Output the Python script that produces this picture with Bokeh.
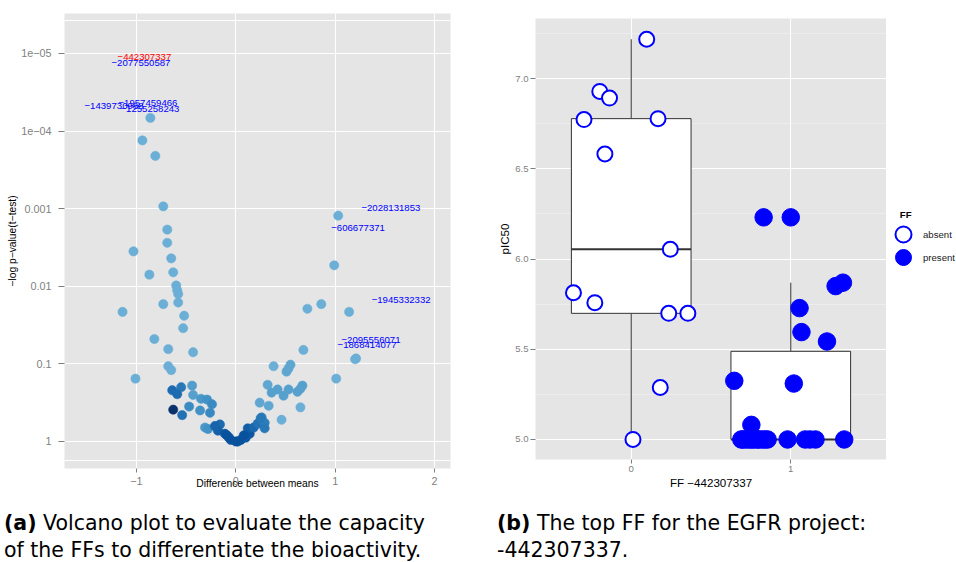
import numpy as np
from bokeh.plotting import figure
from bokeh.models import (FixedTicker, Grid, Legend, LegendItem, ColumnDataSource,
                          Div, LinearColorMapper, Range1d, Label)
from bokeh.layouts import row, column
from bokeh.embed import file_html
from bokeh.resources import INLINE
from bokeh.core.properties import value

# ---------------- (a) volcano plot data ----------------
diff_means = [-0.86, -0.94, -0.81, -0.73, -0.69, -0.69, -1.03, -0.65, -0.87, -0.63,
              -0.60, -0.59, -0.58, -0.58, -0.73, -1.14, -0.52, -0.53, -0.82, -0.68,
              -0.43, -0.68, -0.65, -1.01, -0.55, -0.64, -0.59, -0.44, -0.43, -0.35,
              -0.29, -0.24, -0.47, -0.63, -0.36, -0.26, -0.54, -0.31, -0.28, -0.16,
              -0.18, -0.11, -0.07, -0.05, 0.00, 0.02,
              0.05, 0.10, 0.14, 0.12, 0.18, 0.22, 0.26, 0.29, 0.29, 0.24,
              0.33, 0.46, 0.65, 0.32, 0.36, 0.42, 0.48, 0.53, 0.62, 0.65,
              0.67, 0.38, 0.51, 0.53, 0.55, 1.01, 0.68, 1.21, 1.20, 0.72,
              0.86, 1.14, 0.99, 1.03, 0.25, 0.08, -0.09, -0.21]
neg_log10_p = [4.17, 3.88, 3.68, 3.03, 2.73, 2.56, 2.45, 2.36, 2.15, 2.18,
               2.01, 1.95, 1.90, 1.79, 1.77, 1.67, 1.62, 1.46, 1.32, 1.19,
               1.15, 0.97, 0.92, 0.81, 0.70, 0.66, 0.61, 0.72, 0.60, 0.55,
               0.54, 0.48, 0.45, 0.41, 0.40, 0.37, 0.34, 0.18, 0.16, 0.22,
               0.14, 0.10, 0.05, 0.02, 0.00, 0.00,
               0.02, 0.05, 0.10, 0.17, 0.18, 0.23, 0.31, 0.24, 0.17, 0.50,
               0.46, 0.28, 0.44, 0.73, 0.63, 0.67, 0.59, 0.67, 0.64, 0.68,
               0.72, 0.97, 0.90, 0.94, 0.99, 0.81, 1.18, 1.07, 1.06, 1.71,
               1.77, 1.67, 2.27, 2.91, 0.30, 0.08, 0.08, 0.20]
shade = [0, 0, 0, 0, 0, 0, 0, 0, 0, 0,
         0, 0, 0, 0, 0, 0, 0, 0, 0, 0,
         0, 0, 0, 0, 1.8, 2.2, 2.2, 0.6, 0.5, 0.8,
         1.0, 1.2, 1.2, 4.0, 1.0, 1.3, 2.0, 0.8, 1.0, 2.2,
         2.5, 2.8, 3.0, 3.0, 3.0, 3.0,
         3.0, 2.8, 2.8, 2.6, 2.3, 2.0, 1.6, 1.6, 1.8, 0.3,
         0.3, 0, 0, 0.3, 0.5, 0.5, 0.5, 0.5, 0.5, 0.5,
         0.5, 0, 0.3, 0.3, 0.3, 0, 0, 0, 0, 0,
         0, 0, 0, 0, 1.8, 3.0, 3.0, 2.4]

label_ids = ["−442307337", "−2077550587", "−1439730988", "−1957459466", "−1255258243",
             "−2028131853", "−606677371", "−1945332332", "−2095556071", "−1868414077"]
label_diff = [-0.92, -0.955, -1.226, -0.884, -0.864, 1.56, 1.23, 1.663, 1.36, 1.32]
label_nlp = [4.95, 4.875, 4.32, 4.365, 4.28, 3.01, 2.75, 1.817, 1.31, 1.237]
label_colors = ["#FF0000"] + ["#0000FF"] * 9

p_tick_values = [0, 1, 2, 3, 4, 5]
p_tick_labels = ["1", "0.1", "0.01", "0.001", "1e−04", "1e−05"]
diff_ticks = [-1, 0, 1, 2]
diff_tick_labels = ["−1", "0", "1", "2"]

# ---------------- (b) box plot data ----------------
ff_levels = [0, 1]
ff_tick_labels = ["0", "1"]
ff_legend_title = "FF"
ff_legend_labels = ["absent", "present"]
absent_x = [0.097, -0.197, -0.136, -0.296, 0.168, -0.165, 0.245, -0.362, -0.228,
            0.235, 0.355, 0.182, 0.011]
absent_pic50 = [7.218, 6.929, 6.892, 6.773, 6.778, 6.582, 6.054, 5.813, 5.758,
                5.699, 5.699, 5.288, 5.0]
present_x = [0.830, 1.0, 1.327, 1.281, 1.055, 1.067, 1.227, 0.646, 1.019, 0.753,
             0.69, 0.70, 0.72, 0.74, 0.755, 0.77, 0.79, 0.80, 0.82, 0.84, 0.855,
             0.98, 1.09, 1.12, 1.155, 1.335]
present_pic50 = [6.231, 6.231, 5.869, 5.850, 5.728, 5.595, 5.543, 5.325, 5.310, 5.081,
                 5.0, 5.0, 5.0, 5.0, 5.0, 5.0, 5.0, 5.0, 5.0, 5.0, 5.0,
                 5.0, 5.0, 5.0, 5.0, 5.0]
pic50_ticks = [5.0, 5.5, 6.0, 6.5, 7.0]
pic50_tick_labels = ["5.0", "5.5", "6.0", "6.5", "7.0"]
pic50_minor = [5.25, 5.75, 6.25, 6.75, 7.25]

FONT = "Liberation Sans"
PANEL_BG = "#E5E5E5"
GREY50 = "#7F7F7F"
BLUE = "#0000FF"


def interp_palette(stops, n):
    rgb = np.array([[int(h[i:i + 2], 16) for i in (1, 3, 5)] for h in stops], float)
    pos = np.linspace(0, 1, len(stops))
    t = np.linspace(0, 1, n)
    cols = np.stack([np.interp(t, pos, rgb[:, k]) for k in range(3)], axis=1)
    return ["#%02x%02x%02x" % tuple(int(round(v)) for v in c) for c in cols]


def style_axes(p, tick_size, title_size):
    for ax in (p.xaxis[0], p.yaxis[0]):
        ax.axis_line_color = None
        ax.major_tick_line_color = GREY50
        ax.major_tick_in = 0
        ax.minor_tick_line_color = None
        ax.major_label_text_color = GREY50
        ax.major_label_text_font = FONT
        ax.major_label_text_font_size = tick_size
        ax.axis_label_text_font = FONT
        ax.axis_label_text_font_size = title_size
        ax.axis_label_text_font_style = "normal"
        ax.axis_label_text_color = "black"


# ---------------- figure (a) ----------------
p1 = figure(width=476, height=500, output_backend="svg", toolbar_location=None,
            x_range=Range1d(-1.724, 2.16), y_range=Range1d(-0.348, 5.515),
            min_border_left=64, min_border_right=26, min_border_top=13, min_border_bottom=32,
            background_fill_color=PANEL_BG, border_fill_color="white",
            outline_line_color=None)
p1.xaxis.ticker = FixedTicker(ticks=diff_ticks)
p1.xaxis.major_label_overrides = dict(zip(diff_ticks, diff_tick_labels))
p1.yaxis.ticker = FixedTicker(ticks=p_tick_values)
p1.yaxis.major_label_overrides = dict(zip(p_tick_values, p_tick_labels))
style_axes(p1, "10.8px", "10.3px")
p1.xaxis.axis_label = "Difference between means"
p1.yaxis.axis_label = "−log p−value(t−test)"
p1.yaxis.major_tick_out = 6
p1.yaxis.major_label_standoff = 7
p1.yaxis.axis_label_standoff = 0
p1.xaxis.major_tick_out = 4
p1.xaxis.major_label_standoff = 4
p1.xaxis.axis_label_standoff = -10
for g in (p1.xgrid[0], p1.ygrid[0]):
    g.grid_line_color = "white"
    g.grid_line_width = 1.1
p1.add_layout(Grid(dimension=1, ticker=FixedTicker(ticks=[-0.24, 5.43]),
                   grid_line_color="white", grid_line_width=1.1))

palette = interp_palette(["#6baed6", "#4292c6", "#2171b5", "#08519c", "#08306b"], 81)
mapper = LinearColorMapper(palette=palette, low=0, high=4)
src = ColumnDataSource(dict(x=diff_means, y=neg_log10_p, shade=shade))
p1.scatter("x", "y", source=src, size=9.3,
           fill_color={"field": "shade", "transform": mapper},
           line_color={"field": "shade", "transform": mapper}, line_width=0.5)
lsrc = ColumnDataSource(dict(x=label_diff, y=label_nlp, t=label_ids, c=label_colors))
p1.text("x", "y", text="t", source=lsrc, text_color="c", text_align="center",
        text_baseline="middle", text_font=value(FONT), text_font_size="9.6px")

# ---------------- figure (b) ----------------
p2 = figure(width=410, height=500, output_backend="svg", toolbar_location=None,
            x_range=Range1d(-0.6, 1.6), y_range=Range1d(4.889, 7.333),
            min_border_left=59, min_border_right=0, min_border_top=18, min_border_bottom=41,
            background_fill_color=PANEL_BG, border_fill_color="white",
            outline_line_color=None)
p2.xaxis.ticker = FixedTicker(ticks=ff_levels)
p2.xaxis.major_label_overrides = dict(zip(ff_levels, ff_tick_labels))
p2.yaxis.ticker = FixedTicker(ticks=pic50_ticks, minor_ticks=pic50_minor)
p2.yaxis.major_label_overrides = dict(zip(pic50_ticks, pic50_tick_labels))
style_axes(p2, "9.6px", "11.6px")
p2.xaxis.axis_label = "FF −442307337"
p2.yaxis.axis_label = "pIC50"
p2.yaxis.major_tick_out = 5
p2.yaxis.major_label_standoff = 2
p2.yaxis.axis_label_standoff = 1
p2.xaxis.major_tick_out = 4
p2.xaxis.major_label_standoff = 2
p2.xaxis.axis_label_standoff = 1
p2.xgrid.grid_line_color = "white"
p2.xgrid.grid_line_width = 1.1
p2.ygrid.grid_line_color = "white"
p2.ygrid.grid_line_width = 1.1
p2.ygrid.minor_grid_line_color = "#F2F2F2"
p2.ygrid.minor_grid_line_width = 0.6


def box_stats(vals):
    v = np.asarray(vals, float)
    q1, med, q3 = np.percentile(v, [25, 50, 75])
    iqr = q3 - q1
    lo = v[v >= q1 - 1.5 * iqr].min()
    hi = v[v <= q3 + 1.5 * iqr].max()
    return q1, med, q3, lo, hi


stats = [box_stats(absent_pic50), box_stats(present_pic50)]
half_w = 0.375
bsrc = ColumnDataSource(dict(
    left=[x - half_w for x in ff_levels], right=[x + half_w for x in ff_levels],
    q1=[s[0] for s in stats], med=[s[1] for s in stats], q3=[s[2] for s in stats],
    lo=[s[3] for s in stats], hi=[s[4] for s in stats], x=ff_levels))
p2.segment(x0="x", x1="x", y0="q3", y1="hi", source=bsrc, line_color="#333333", line_width=1)
p2.segment(x0="x", x1="x", y0="lo", y1="q1", source=bsrc, line_color="#333333", line_width=1)
p2.quad(left="left", right="right", bottom="q1", top="q3", source=bsrc,
        fill_color="white", line_color="#333333", line_width=1)
p2.segment(x0="left", x1="right", y0="med", y1="med", source=bsrc,
           line_color="#333333", line_width=2)

absent_style = dict(fill_color="white", line_color=BLUE, line_width=2)
present_style = dict(fill_color=BLUE, line_color=BLUE, line_width=1)
p2.scatter(absent_x, absent_pic50, size=15, **absent_style)
p2.scatter(present_x, present_pic50, size=17.5, **present_style)

# ---------------- legend (own small canvas to the right of panel b) ----------------
p3 = figure(width=70, height=500, output_backend="svg", toolbar_location=None,
            x_range=Range1d(0, 1), y_range=Range1d(0, 1),
            x_axis_location=None, y_axis_location=None,
            min_border_left=0, min_border_right=0, min_border_top=0, min_border_bottom=0,
            background_fill_color="white", border_fill_color="white",
            outline_line_color=None)
p3.grid.visible = False
# key-only renderers (no visible data) so the legend can draw the keys
key_abs = p3.scatter(np.array([np.nan]), np.array([np.nan]), size=15, **absent_style)
key_pre = p3.scatter(np.array([np.nan]), np.array([np.nan]), size=17.5, **present_style)
legend_style = dict(margin=0, padding=0, glyph_width=40, glyph_height=40,
                    label_standoff=0, border_line_color=None, background_fill_alpha=0,
                    label_text_font=FONT, label_text_font_size="9.6px",
                    label_text_color="#1a1a1a")
p3.add_layout(Legend(items=[LegendItem(label=ff_legend_labels[0], renderers=[key_abs])],
                     location=(-3, 246), **legend_style))
p3.add_layout(Legend(items=[LegendItem(label=ff_legend_labels[1], renderers=[key_pre])],
                     location=(-3, 223), **legend_style))
p3.add_layout(Label(x=0.19, y=0.572, text=ff_legend_title, text_font=FONT,
                    text_font_size="9.6px", text_font_style="bold",
                    text_baseline="middle", text_align="left", text_color="black"))

# ---------------- captions ----------------
cap_style = ("font-family:'DejaVu Sans';font-size:20.5px;line-height:27px;"
             "color:#000;white-space:nowrap;")
d1 = Div(text=f"<div style=\"{cap_style}padding:10px 0 0 4px;\"><b>(a)</b> Volcano plot to evaluate the capacity<br>"
              "of the FFs to differentiate the bioactivity.</div>",
         width=476, height=62, margin=0)
d2 = Div(text=f"<div style=\"{cap_style}padding:10px 0 0 21px;\"><b>(b)</b> The top FF for the EGFR project:<br>"
              "-442307337.</div>",
         width=410, height=62, margin=0)

layout = row(column(p1, d1, spacing=0), column(p2, d2, spacing=0), p3, spacing=0)
open("out.html", "w").write(file_html(layout, INLINE))
